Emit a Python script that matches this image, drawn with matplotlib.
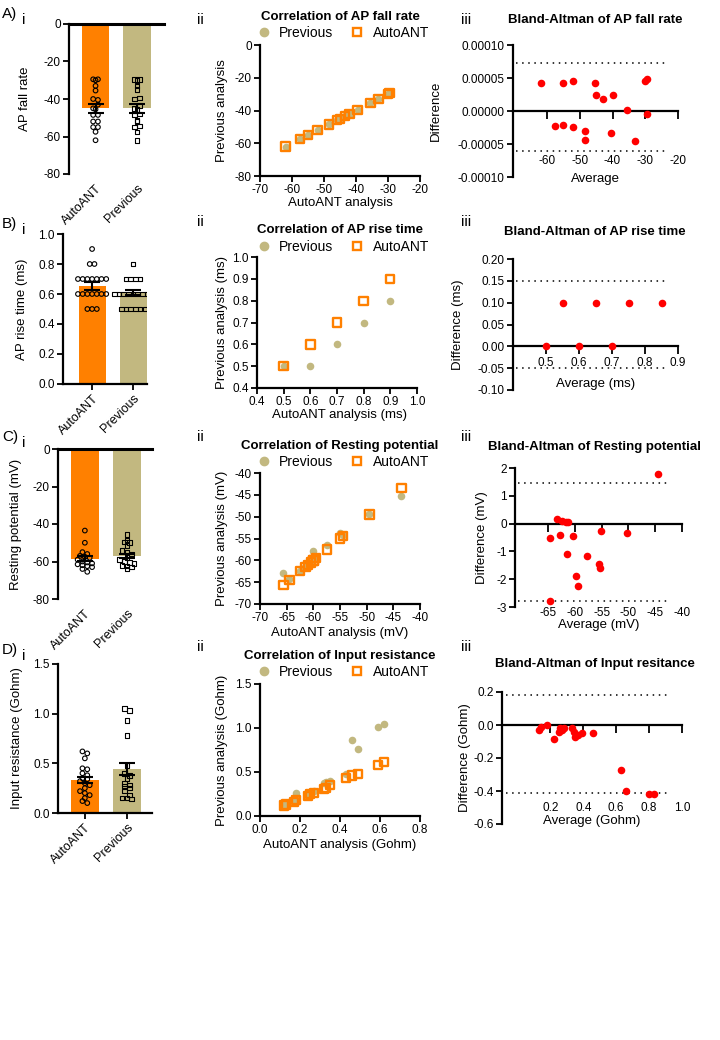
import numpy as np
import matplotlib
matplotlib.use("Agg")
import matplotlib.pyplot as plt
from matplotlib import transforms
from matplotlib.lines import Line2D

plt.rcParams['font.family'] = ['Liberation Sans', 'DejaVu Sans']
plt.rcParams['font.size'] = 8.5
plt.rcParams['axes.unicode_minus'] = False

ORANGE = '#FF8000'
TAN = '#C2B880'
RED = '#FF0000'

# ---------------- data ----------------
groups = ['AutoANT', 'Previous']

# A: AP fall rate
A_auto = [-62, -57.5, -55, -55, -52, -52, -48.5, -48.5, -45.5, -45, -43, -40, -40.5, -35.5, -33, -30, -29.5, -29.5]
A_prev = [-62, -57.5, -55, -54.5, -52, -51.5, -48.5, -48, -45.5, -45, -43.5, -40, -39.5, -35, -33, -30, -29.5, -29.5]
A_mean = [-45, -45]
A_sem = [2.5, 2.5]
A_sc_x = [-62, -57.5, -55, -52, -48.5, -46, -45, -43.5, -42, -39.5, -35.5, -33, -30, -29.5]
A_sc_prev = [-62, -57.5, -55, -52, -48.5, -46, -45, -43.5, -42, -39.5, -35.5, -33, -30, -29.5]
A_sc_auto = [-62, -57.5, -55, -52, -48.5, -46, -45, -43.5, -42, -39.5, -35.5, -33, -30, -29.5]
A_ba_avg = [-62, -57.5, -55, -55, -52, -52, -48.5, -48.5, -45.5, -45, -43, -40, -40.5, -35.5, -33, -30, -29.5, -29.5]
A_ba_diff = [4.2e-5, -2.2e-5, 4.3e-5, -2.1e-5, 4.6e-5, -2.4e-5, -3.0e-5, -4.4e-5, 4.2e-5, 2.4e-5, 1.8e-5,
             2.4e-5, -3.4e-5, 0.1e-5, -4.5e-5, 4.6e-5, 4.9e-5, -0.5e-5]
A_ba_lim = [7.3e-5, -6.1e-5]

# B: AP rise time
B_auto = [0.9, 0.8, 0.8] + [0.7] * 7 + [0.6] * 7 + [0.5] * 3
B_prev = [0.8] + [0.7] * 4 + [0.6] * 9 + [0.5] * 6
B_mean = [0.655, 0.61]
B_sem = [0.025, 0.017]
B_sc_x = [0.5, 0.6, 0.7, 0.8, 0.9]
B_sc_prev = [0.5, 0.5, 0.6, 0.7, 0.8]
B_sc_auto = [0.5, 0.6, 0.7, 0.8, 0.9]
B_ba_avg = [0.5, 0.55, 0.6, 0.65, 0.7, 0.75, 0.85]
B_ba_diff = [0.0, 0.1, 0.0, 0.1, 0.0, 0.1, 0.1]
B_ba_lim = [0.15, -0.05]

# C: Resting potential
C_auto = [-43.5, -50, -55, -56, -57, -57.5, -58, -59, -60, -60.5, -61, -61.5, -62, -62.5, -63, -64, -65.5]
C_prev = [-45.5, -48.5, -49.5, -50, -51.5, -54, -55, -56, -58, -59, -60, -60.5, -61, -62, -62.5, -63, -64]
C_mean = [-58.5, -57]
C_sem = [1.3, 1.2]
C_sc_x = [-65.6, -64.5, -62.5, -61.5, -61, -60.5, -60, -60, -59.5, -57.5, -55, -54.5, -49.5, -43.5]
C_sc_prev = [-62.8, -64.3, -62.5, -61.5, -61, -60.5, -57.8, -60, -59.5, -56.5, -53.8, -54.3, -49.3, -45.3]
C_sc_auto = [-65.6, -64.5, -62.5, -61.5, -61, -60.5, -60, -60, -59.5, -57.5, -55, -54.5, -49.5, -43.5]
C_ba_avg = [-64.7, -64.7, -63.3, -62.7, -62.5, -61.7, -61.5, -61.3, -60.3, -59.8, -59.5, -57.8, -55.5, -55.3,
            -55.2, -50.3, -44.5]
C_ba_diff = [-2.8, -0.5, 0.15, -0.4, 0.1, 0.05, -1.1, 0.05, -0.45, -1.9, -2.25, -1.15, -1.45, -1.6, -0.25,
             -0.35, 1.8]
C_ba_lim = [1.45, -2.8]

# D: Input resistance
D_auto = [0.62, 0.6, 0.55, 0.45, 0.44, 0.4, 0.38, 0.35, 0.34, 0.32, 0.3, 0.28, 0.25, 0.22, 0.2, 0.18, 0.15, 0.12, 0.1]
D_prev = [1.05, 1.03, 0.93, 0.78, 0.48, 0.4, 0.38, 0.35, 0.3, 0.28, 0.27, 0.25, 0.22, 0.18, 0.15, 0.15, 0.14]
D_mean = [0.33, 0.44]
D_sem = [0.03, 0.06]
D_sc_x = [0.12, 0.13, 0.17, 0.18, 0.24, 0.25, 0.27, 0.32, 0.33, 0.35, 0.43, 0.46, 0.49, 0.59, 0.62]
D_sc_prev = [0.12, 0.13, 0.18, 0.26, 0.24, 0.26, 0.28, 0.38, 0.39, 0.40, 0.48, 0.86, 0.76, 1.01, 1.04]
D_sc_auto = [0.12, 0.13, 0.16, 0.18, 0.23, 0.25, 0.26, 0.31, 0.32, 0.35, 0.43, 0.46, 0.48, 0.58, 0.61]
D_ba_avg = [0.13, 0.14, 0.18, 0.22, 0.25, 0.26, 0.27, 0.28, 0.33, 0.34, 0.35, 0.37, 0.39, 0.46, 0.63, 0.66, 0.8, 0.83]
D_ba_diff = [-0.03, -0.01, 0.0, -0.085, -0.04, -0.02, -0.03, -0.02, -0.02, -0.04, -0.07, -0.06, -0.05, -0.05,
             -0.27, -0.40, -0.42, -0.42]
D_ba_lim = [0.18, -0.41]

# ---------------- figure ----------------
W, H = 720, 1040
fig = plt.figure(figsize=(W / 100, H / 100), dpi=100)


def axpx(l, t, r, b):
    return fig.add_axes([l / W, 1 - b / H, (r - l) / W, (b - t) / H])


def ftext(x, y, s, **kw):
    fig.text(x / W, 1 - y / H, s, **kw)


def style(ax):
    for s in ['top', 'right']:
        ax.spines[s].set_visible(False)
    for s in ['left', 'bottom']:
        ax.spines[s].set_linewidth(1.6)
    ax.tick_params(width=1.3, length=4, labelsize=8.5, pad=2)


def spread(vals, step):
    vals = np.asarray(vals, float)
    offs = np.zeros(len(vals))
    keys = np.round(vals / step).astype(int)
    for k in np.unique(keys):
        idx = np.where(keys == k)[0]
        n = len(idx)
        offs[idx] = (np.arange(n) - (n - 1) / 2) * 0.115
    return offs


def bar_panel(box, xlim, ylim, yticks, means, sems, auto, prev, step, ylabel, negative, ylabx, tickfmt=None):
    ax = axpx(*box)
    style(ax)
    ax.bar([0, 1], means, width=0.66, color=[ORANGE, TAN], zorder=1)
    for i, vals in enumerate([auto, prev]):
        xs = i + spread(vals, step)
        ax.scatter(xs, vals, s=11, marker='o' if i == 0 else 's', facecolor='none', edgecolor='black',
                   linewidths=0.8, zorder=3)
    ax.errorbar([0, 1], means, yerr=sems, fmt='none', ecolor='black', elinewidth=1.5, capsize=6, capthick=1.5, zorder=4)
    ax.set_xlim(*xlim)
    ax.set_ylim(*ylim)
    ax.set_yticks(yticks)
    if tickfmt:
        ax.set_yticklabels([tickfmt.format(v) for v in yticks])
    ax.set_xticks([0, 1])
    ax.set_xticklabels(groups, rotation=45, ha='right', va='top', rotation_mode='anchor', fontsize=9)
    if negative:
        ax.spines['bottom'].set_visible(False)
        ax.axhline(0, color='black', lw=2.2, zorder=5, clip_on=False)
        ax.tick_params(axis='x', length=0, pad=6)
    fig.text(ylabx / W, 1 - (box[1] + box[3]) / 2 / H, ylabel, rotation=90, ha='center', va='center', fontsize=9.5)
    return ax


def corr_panel(box, xlim, ylim, xt, yt, x, prev, auto, title, ty, ly, xlabel, xly, ylabel, yfmt=None, xfmt=None):
    ax = axpx(*box)
    style(ax)
    ax.scatter(x, prev, s=30, color=TAN, zorder=2, linewidths=0)
    ax.scatter(x, auto, s=36, marker='s', facecolor='none', edgecolor=ORANGE, linewidths=1.7, zorder=3)
    ax.set_xlim(*xlim)
    ax.set_ylim(*ylim)
    ax.set_xticks(xt)
    ax.set_yticks(yt)
    if yfmt:
        ax.set_yticklabels([yfmt.format(v) for v in yt])
    if xfmt:
        ax.set_xticklabels([xfmt.format(v) for v in xt])
    ftext(340, ty, title, ha='center', va='center', fontsize=9.5, fontweight='bold')
    handles = [Line2D([], [], marker='o', ls='', color=TAN, markersize=6),
               Line2D([], [], marker='s', ls='', markerfacecolor='none', markeredgecolor=ORANGE,
                      markeredgewidth=1.7, markersize=6)]
    ax.legend(handles, ['Previous', 'AutoANT'], ncol=2, frameon=False, loc='center',
              bbox_to_anchor=(343 / W, 1 - ly / H), bbox_transform=fig.transFigure,
              fontsize=10, columnspacing=1.2, handletextpad=0.6, handlelength=1.0, borderpad=0)
    ftext(340, xly, xlabel, ha='center', va='center', fontsize=9.5)
    fig.text(222 / W, 1 - (box[1] + box[3]) / 2 / H, ylabel, rotation=90, ha='center', va='center', fontsize=9.5)
    return ax


def ba_panel(box, xlim, ylim, xt, yt, avg, diff, lims, title, ty, xly, xlabel, xlaby, ylabel, ylabx, yfmt, xfmt):
    ax = axpx(*box)
    style(ax)
    ax.spines['bottom'].set_position(('data', 0))
    ax.scatter(avg, diff, s=30, color=RED, zorder=3, linewidths=0, clip_on=False)
    for v in lims:
        ax.axhline(v, xmin=0.02, xmax=0.93, color='black', ls=(0, (1, 3)), lw=1.1)
    ax.set_xlim(*xlim)
    ax.set_ylim(*ylim)
    ax.set_xticks(xt)
    ax.set_xticklabels([])
    ax.tick_params(axis='x', direction='out', length=6)
    ax.set_yticks(yt)
    ax.set_yticklabels([yfmt.format(v) for v in yt])
    tr = transforms.blended_transform_factory(ax.transData, fig.transFigure)
    for v in xt:
        ax.text(v, 1 - xly / H, xfmt.format(v), transform=tr, ha='center', va='center', fontsize=8.5)
    cx = (box[0] + box[2]) / 2
    ftext(cx, xlaby, xlabel, ha='center', va='center', fontsize=9.5)
    ftext(595, ty, title, ha='center', va='center', fontsize=9.5, fontweight='bold')
    fig.text(ylabx / W, 1 - (box[1] + box[3]) / 2 / H, ylabel, rotation=90, ha='center', va='center', fontsize=9.5)
    return ax


# ----- Row A -----
bar_panel((69, 24, 164, 174), (-0.64, 1.65), (-80, 0), [-80, -60, -40, -20, 0], A_mean, A_sem, A_auto, A_prev,
          2.2, 'AP fall rate', True, 25)
corr_panel((260, 45, 420, 176), (-70, -20), (-80, 0), [-70, -60, -50, -40, -30, -20], [-80, -60, -40, -20, 0],
           A_sc_x, A_sc_prev, A_sc_auto, 'Correlation of AP fall rate', 17, 33, 'AutoANT analysis', 203,
           'Previous analysis')
ba_panel((513, 45, 678, 177), (-70.4, -20), (-1e-4, 1e-4), [-60, -50, -40, -30, -20],
         [-1e-4, -5e-5, 0, 5e-5, 1e-4], A_ba_avg, A_ba_diff, A_ba_lim, 'Bland-Altman of AP fall rate', 20,
         161, 'Average', 179, 'Difference', 436, '{:.5f}', '{:g}')

# ----- Row B -----
bar_panel((63, 234, 147, 384), (-0.71, 1.34), (0, 1.0), [0, 0.2, 0.4, 0.6, 0.8, 1.0], B_mean, B_sem, B_auto, B_prev,
          0.05, 'AP rise time (ms)', False, 22, '{:.1f}')
corr_panel((257, 257, 417, 388), (0.4, 1.0), (0.4, 1.0), [0.4, 0.5, 0.6, 0.7, 0.8, 0.9, 1.0],
           [0.4, 0.5, 0.6, 0.7, 0.8, 0.9, 1.0], B_sc_x, B_sc_prev, B_sc_auto, 'Correlation of AP rise time', 230, 247,
           'AutoANT analysis (ms)', 415, 'Previous analysis (ms)', '{:.1f}', '{:.1f}')
ba_panel((513, 259, 678, 390), (0.4, 0.9), (-0.1, 0.2), [0.5, 0.6, 0.7, 0.8, 0.9],
         [-0.1, -0.05, 0, 0.05, 0.1, 0.15, 0.2], B_ba_avg, B_ba_diff, B_ba_lim, 'Bland-Altman of AP rise time', 232,
         363, 'Average (ms)', 384, 'Difference (ms)', 458, '{:.2f}', '{:.1f}')

# ----- Row C -----
bar_panel((58, 449, 152, 599), (-0.64, 1.6), (-80, 0), [-80, -60, -40, -20, 0], C_mean, C_sem, C_auto, C_prev,
          2.5, 'Resting potential (mV)', True, 16)
corr_panel((260, 473, 420, 604), (-70, -40), (-70, -40), [-70, -65, -60, -55, -50, -45, -40],
           [-70, -65, -60, -55, -50, -45, -40], C_sc_x, C_sc_prev, C_sc_auto, 'Correlation of Resting potential',
           446, 462, 'AutoANT analysis (mV)', 633, 'Previous analysis (mV)')
ba_panel((515, 468, 682, 607), (-71.2, -40), (-3, 2), [-65, -60, -55, -50, -45, -40],
         [-3, -2, -1, 0, 1, 2], C_ba_avg, C_ba_diff, C_ba_lim, 'Bland-Altman of Resting potential', 447,
         613, 'Average (mV)', 625, 'Difference (mV)', 482, '{:g}', '{:g}')

# ----- Row D -----
bar_panel((58, 664, 152, 813), (-0.64, 1.6), (0, 1.5), [0, 0.5, 1.0, 1.5], D_mean, D_sem, D_auto, D_prev,
          0.05, 'Input resistance (Gohm)', False, 17, '{:.1f}')
corr_panel((260, 684, 420, 816), (0, 0.8), (0, 1.5), [0, 0.2, 0.4, 0.6, 0.8], [0, 0.5, 1.0, 1.5],
           D_sc_x, D_sc_prev, D_sc_auto, 'Correlation of Input resistance', 656, 672,
           'AutoANT analysis (Gohm)', 845, 'Previous analysis (Gohm)', '{:.1f}', '{:.1f}')
ba_panel((502, 692, 682, 824), (-0.095, 1.0), (-0.6, 0.2), [0.2, 0.4, 0.6, 0.8, 1.0],
         [-0.6, -0.4, -0.2, 0, 0.2], D_ba_avg, D_ba_diff, D_ba_lim, 'Bland-Altman of Input resitance', 664,
         808, 'Average (Gohm)', 821, 'Difference (Gohm)', 465, '{:.1f}', '{:.1f}')

# panel letters
for lab, y in [('A)', 14), ('B)', 224), ('C)', 437), ('D)', 650)]:
    ftext(2, y, lab, ha='left', va='center', fontsize=11)
    ftext(22, y + 6, 'i', ha='left', va='center', fontsize=11)
for y in [20, 222, 437, 647]:
    ftext(197, y, 'ii', ha='left', va='center', fontsize=11)
    ftext(461, y, 'iii', ha='left', va='center', fontsize=11)

fig.savefig('out.png', dpi=100)
